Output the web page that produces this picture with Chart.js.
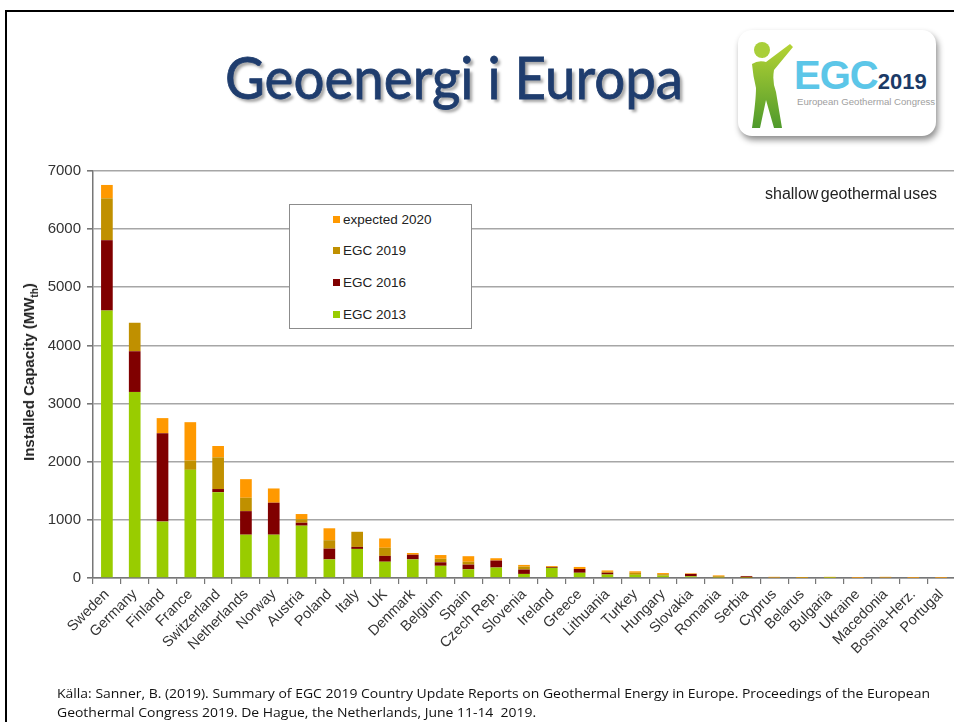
<!DOCTYPE html>
<html lang="sv">
  <head>
    <meta charset="UTF-8" />
    <title>Geoenergi i Europa</title>
    <script src="https://cdn.jsdelivr.net/npm/chart.js"></script>
    <style>
      body {
        margin: 0;
        width: 954px;
        height: 722px;
        overflow: hidden;
        position: relative;
        background: #fff;
        font-family: "Liberation Sans", Arial, sans-serif;
      }
      .frame {
        position: absolute;
        left: 5px;
        top: 10px;
        right: -20px;
        bottom: -20px;
        border-left: 2.5px solid #000;
        border-top: 2.5px solid #000;
      }
      .title {
        position: absolute;
        left: 0;
        top: 42px;
        width: 908px;
        text-align: center;
        font-family: Lato, "Open Sans", sans-serif;
        font-size: 58px;
        color: #1f3d6e;
        -webkit-text-stroke: 0.8px #1f3d6e;
        text-shadow: 3px 3px 3px rgba(0, 0, 0, 0.35);
        white-space: nowrap;
      }
      .title span {
        display: inline-block;
        transform-origin: center;
      }
      .logo {
        position: absolute;
        left: 738px;
        top: 30px;
        width: 198px;
        height: 106px;
        border-radius: 14px;
        background: #fff;
        box-shadow: 2px 4px 6px rgba(0, 0, 0, 0.45);
      }
      .logo .egc {
        position: absolute;
        left: 56px;
        top: 23px;
        font-weight: bold;
        font-size: 40px;
        color: #5cc6e8;
        letter-spacing: -1px;
      }
      .logo .egc b {
        font-size: 22px;
        color: #1b3a66;
        letter-spacing: 0;
      }
      .logo .sub {
        position: absolute;
        left: 59px;
        top: 66px;
        font-size: 9.6px;
        color: #a0a0a0;
        white-space: nowrap;
      }
      #wrap {
        position: absolute;
        left: 0;
        top: 150px;
        width: 957px;
        height: 540px;
      }
      .ytitle {
        position: absolute;
        left: 30px;
        top: 372px;
        transform: translate(-50%, -50%) rotate(-90deg);
        font-weight: bold;
        font-size: 15px;
        color: #222;
        white-space: nowrap;
      }
      .ytitle sub {
        font-size: 10px;
      }
      .legend {
        position: absolute;
        left: 289px;
        top: 204px;
        width: 183px;
        height: 125px;
        border: 1px solid #8c8c8c;
        background: #fff;
        box-sizing: border-box;
      }
      .legend div {
        position: absolute;
        left: 43px;
        font-size: 13.5px;
        color: #222;
        white-space: nowrap;
      }
      .legend i {
        display: inline-block;
        width: 7px;
        height: 7px;
        margin-right: 3px;
        vertical-align: 1px;
      }
      .note {
        position: absolute;
        left: 765px;
        top: 185px;
        font-size: 16px;
        color: #222;
        word-spacing: -2px;
      }
      .source {
        position: absolute;
        left: 57px;
        top: 684px;
        font-family: "Open Sans", sans-serif;
        font-size: 13px;
        line-height: 19px;
        color: #111;
        white-space: nowrap;
        transform-origin: left top;
      }
    </style>
  </head>
  <body>
    <div class="frame"></div>
    <div class="title"><span id="title">Geoenergi i Europa</span></div>

    <div class="logo">
      <svg width="60" height="106" style="position:absolute;left:0;top:0">
        <defs>
          <linearGradient id="fig" x1="0" y1="0" x2="0" y2="1">
            <stop offset="0" stop-color="#b5d334" />
            <stop offset="1" stop-color="#4f9a2c" />
          </linearGradient>
        </defs>
        <circle cx="24" cy="20" r="8" fill="#a9cf3a" />
        <path
          d="M14 34 Q20 30 28 32 L52 14 L55 17 L36 40 Q34 52 38 62 L44 98 L36 98 L28 70 L22 98 L14 98 Q18 70 18 58 Q15 46 14 34 Z"
          fill="url(#fig)"
        />
      </svg>
      <div class="egc">EGC<b>2019</b></div>
      <div class="sub">European Geothermal Congress</div>
    </div>

    <div id="wrap"><canvas id="capacityChart"></canvas></div>

    <div class="ytitle">Installed Capacity (MW<sub>th</sub>)</div>
    <div class="note">shallow geothermal uses</div>
    <div class="legend" id="legend"></div>

    <div class="source" id="source">
      Källa: Sanner, B. (2019). Summary of EGC 2019 Country Update Reports on Geothermal Energy in Europe. Proceedings of the European<br />
      Geothermal Congress 2019. De Hague, the Netherlands, June 11-14&nbsp; 2019.
    </div>

    <script>
      // countries, in the order of the slide
      const countries = [
        "Sweden", "Germany", "Finland", "France", "Switzerland", "Netherlands",
        "Norway", "Austria", "Poland", "Italy", "UK", "Denmark", "Belgium",
        "Spain", "Czech Rep.", "Slovenia", "Ireland", "Greece", "Lithuania",
        "Turkey", "Hungary", "Slovakia", "Romania", "Serbia", "Cyprus",
        "Belarus", "Bulgaria", "Ukraine", "Macedonia", "Bosnia-Herz.", "Portugal",
      ];

      // stacked segments in MWth (each one is the increase over the previous report)
      const egc2013 = [
        4600, 3200, 970, 1860, 1475, 745, 745, 900, 320, 500, 280, 320, 210,
        150, 180, 70, 175, 90, 60, 55, 40, 30, 10, 5, 0, 0, 5, 0, 0, 0, 0,
      ];
      const egc2016 = [
        1210, 700, 1520, 0, 55, 405, 550, 50, 185, 35, 100, 80, 60,
        80, 120, 75, 15, 65, 30, 0, 0, 40, 0, 25, 0, 0, 0, 0, 0, 0, 0,
      ];
      const egc2019 = [
        720, 490, 0, 160, 545, 230, 0, 60, 145, 260, 140, 0, 60,
        50, 0, 50, 0, 0, 15, 35, 25, 0, 20, 0, 10, 5, 5, 0, 10, 0, 0,
      ];
      const expected2020 = [
        230, 0, 260, 660, 195, 320, 245, 90, 205, 0, 160, 30, 65,
        95, 40, 30, 15, 35, 25, 25, 20, 10, 15, 5, 10, 10, 10, 2, 10, 2, 2,
      ];

      const seriesLabels = ["EGC 2013", "EGC 2016", "EGC 2019", "expected 2020"];
      const seriesColors = ["#99cc00", "#800000", "#c09000", "#ff9900"];
      const seriesData = [egc2013, egc2016, egc2019, expected2020];

      const yTicks = [0, 1000, 2000, 3000, 4000, 5000, 6000, 7000];

      // legend box (top entry is the last series, like the slide)
      const legendEl = document.getElementById("legend");
      const rowTops = [7, 38, 70, 102];
      seriesLabels
        .slice()
        .reverse()
        .forEach((label, i) => {
          const row = document.createElement("div");
          row.style.top = rowTops[i] + "px";
          const color = seriesColors[seriesLabels.length - 1 - i];
          row.innerHTML = '<i style="background:' + color + '"></i>' + label;
          legendEl.appendChild(row);
        });

      // squeeze title and source text to the width they take on the slide
      function fitWidth(el, w) {
        const r = el.getBoundingClientRect().width;
        el.style.transform = "scaleX(" + w / r + ")";
      }
      fitWidth(document.getElementById("title"), 458);
      const src = document.getElementById("source");
      src.style.transform = "scaleX(" + 873 / src.getBoundingClientRect().width + ")";

      const ctx = document.getElementById("capacityChart").getContext("2d");
      new Chart(ctx, {
        type: "bar",
        data: {
          labels: countries,
          datasets: seriesLabels.map((label, i) => ({
            label: label,
            data: seriesData[i],
            backgroundColor: seriesColors[i],
            borderWidth: 0,
            barPercentage: 0.42,
            categoryPercentage: 1,
          })),
        },
        options: {
          responsive: true,
          maintainAspectRatio: false,
          animation: false,
          layout: { padding: { top: 21, right: 2, bottom: 0, left: 0 } },
          plugins: {
            legend: { display: false },
            tooltip: { enabled: false },
          },
          scales: {
            x: {
              stacked: true,
              afterFit: (scale) => {
                scale.height = 112;
              },
              grid: {
                drawOnChartArea: false,
                offset: true,
                tickLength: 6,
                color: "#777",
                lineWidth: 1.2,
              },
              border: { color: "#777", width: 1.5 },
              ticks: {
                autoSkip: false,
                maxRotation: 45,
                minRotation: 45,
                padding: 2,
                color: "#333",
                font: { family: "Liberation Sans", size: 14.5 },
              },
            },
            y: {
              stacked: true,
              min: 0,
              max: 7000,
              afterFit: (scale) => {
                scale.width = 93;
              },
              afterBuildTicks: (scale) => {
                scale.ticks = yTicks.map((v) => ({ value: v }));
              },
              grid: {
                color: "#a6a6a6",
                lineWidth: 1.6,
                tickLength: 6,
                tickColor: "#777",
              },
              border: { color: "#777", width: 1.5 },
              ticks: {
                padding: 6,
                color: "#333",
                font: { family: "Liberation Sans", size: 15 },
                callback: (v) => String(v),
              },
            },
          },
        },
      });
    </script>
  </body>
</html>
